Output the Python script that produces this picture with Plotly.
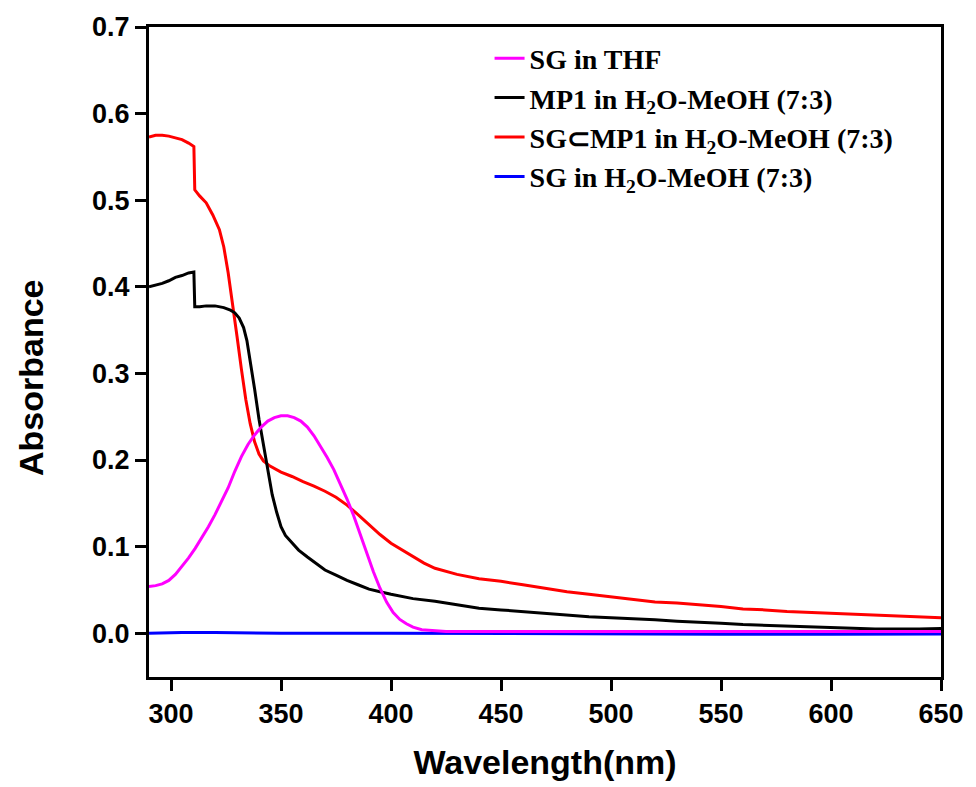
import plotly.graph_objects as go

# ---------------- data ----------------
wl_red = [290, 293, 296, 299, 302, 305, 308, 310.4, 310.8, 313, 316, 319, 322, 324, 326, 328, 330, 332, 334, 336,
          338, 340, 342, 345, 350, 355, 360, 365, 370, 375, 380, 385, 390, 395, 400, 405, 410, 415, 420, 430,
          440, 450, 460, 470, 480, 490, 500, 510, 520, 530, 540, 550, 560, 570, 580, 590, 600, 610, 620, 630,
          640, 650]
abs_red = [0.573, 0.575, 0.575, 0.574, 0.572, 0.570, 0.566, 0.562, 0.512, 0.505, 0.497, 0.483, 0.466, 0.446,
           0.416, 0.382, 0.343, 0.305, 0.270, 0.242, 0.221, 0.207, 0.199, 0.193, 0.186, 0.181, 0.175, 0.170,
           0.164, 0.157, 0.148, 0.137, 0.125, 0.114, 0.104, 0.096, 0.088, 0.081, 0.075, 0.068, 0.063, 0.060,
           0.056, 0.052, 0.048, 0.045, 0.042, 0.039, 0.036, 0.035, 0.033, 0.031, 0.028, 0.027, 0.025, 0.024,
           0.023, 0.022, 0.021, 0.020, 0.019, 0.018]

wl_black = [290, 293, 296, 299, 302, 305, 308, 310.4, 310.8, 313, 316, 320, 324, 327, 329, 331, 333, 334.5, 336,
            338, 340, 342, 344, 346, 348, 350, 352, 355, 358, 362, 366, 370, 375, 380, 385, 390, 395, 400, 410,
            420, 430, 440, 450, 460, 470, 480, 490, 500, 510, 520, 530, 540, 550, 560, 570, 580, 590, 600, 610,
            620, 630, 640, 650]
abs_black = [0.400, 0.402, 0.404, 0.407, 0.411, 0.413, 0.416, 0.417, 0.377, 0.377, 0.378, 0.378, 0.376, 0.373,
             0.370, 0.364, 0.353, 0.338, 0.315, 0.282, 0.247, 0.218, 0.190, 0.160, 0.140, 0.123, 0.113, 0.104,
             0.096, 0.088, 0.080, 0.073, 0.067, 0.061, 0.056, 0.051, 0.048, 0.045, 0.040, 0.037, 0.033, 0.029,
             0.027, 0.025, 0.023, 0.021, 0.019, 0.018, 0.017, 0.0155, 0.014, 0.013, 0.0115, 0.010, 0.009, 0.008,
             0.0072, 0.0065, 0.0058, 0.0050, 0.0046, 0.0050, 0.0055]

wl_mag = [290, 293, 296, 299, 302, 305, 308, 311, 314, 317, 320, 323, 326, 329, 332, 335, 338, 341, 344, 347,
          350, 353, 356, 359, 362, 365, 368, 371, 374, 377, 380, 383, 386, 389, 392, 395, 398, 401, 404, 407,
          410, 414, 418, 425, 450, 500, 550, 600, 650]
abs_mag = [0.054, 0.055, 0.057, 0.061, 0.068, 0.077, 0.087, 0.098, 0.110, 0.123, 0.137, 0.152, 0.168, 0.187,
           0.204, 0.218, 0.229, 0.238, 0.245, 0.249, 0.251, 0.251, 0.249, 0.245, 0.238, 0.228, 0.216, 0.203,
           0.189, 0.173, 0.155, 0.136, 0.114, 0.092, 0.071, 0.052, 0.036, 0.024, 0.016, 0.011, 0.007, 0.004,
           0.003, 0.002, 0.002, 0.002, 0.002, 0.002, 0.002]

wl_blue = [290, 300, 305, 320, 350, 400, 450, 500, 550, 600, 650]
abs_blue = [0.000, 0.001, 0.001, 0.0008, 0.000, 0.000, -0.0005, -0.0008, -0.001, -0.001, -0.0008]

name_mag = "SG in THF"
name_black = "MP1 in H<sub>2</sub>O-MeOH (7:3)"
name_red = "SG\u2282MP1 in H<sub>2</sub>O-MeOH (7:3)"
name_blue = "SG in H<sub>2</sub>O-MeOH (7:3)"

x_ticks = [300, 350, 400, 450, 500, 550, 600, 650]
y_ticks = [0.0, 0.1, 0.2, 0.3, 0.4, 0.5, 0.6, 0.7]

x_title = "Wavelength(nm)"
y_title = "Absorbance"

# ---------------- figure ----------------
fig = go.Figure()
fig.add_trace(go.Scatter(x=wl_blue, y=abs_blue, mode="lines", name=name_blue,
                         line=dict(color="#0000FF", width=3), legendrank=4))
fig.add_trace(go.Scatter(x=wl_red, y=abs_red, mode="lines", name=name_red,
                         line=dict(color="#FF0000", width=3), legendrank=3))
fig.add_trace(go.Scatter(x=wl_black, y=abs_black, mode="lines", name=name_black,
                         line=dict(color="#000000", width=3), legendrank=2))
fig.add_trace(go.Scatter(x=wl_mag, y=abs_mag, mode="lines", name=name_mag,
                         line=dict(color="#FF00FF", width=3), legendrank=1))

axis_common = dict(showline=True, linecolor="black", linewidth=3, mirror=True,
                   showgrid=False, zeroline=False, ticks="outside", tickwidth=3,
                   tickcolor="black", ticklen=11)

fig.update_layout(
    width=976, height=787,
    margin=dict(l=149, r=29, t=27, b=110),
    paper_bgcolor="white", plot_bgcolor="white",
    showlegend=True,
    legend=dict(x=0.43, y=0.99, xanchor="left", yanchor="top",
                bgcolor="rgba(0,0,0,0)", borderwidth=0,
                font=dict(family="Liberation Serif", size=28, color="black", weight="bold"),
                tracegroupgap=0),
    xaxis=dict(range=[290, 650], tickvals=x_ticks, ticktext=[str(v) for v in x_ticks],
               tickfont=dict(family="Liberation Sans", size=27, color="black", weight="bold"),
               title=dict(text=x_title, standoff=22,
                          font=dict(family="Liberation Sans", size=34, color="black", weight="bold")),
               **axis_common),
    yaxis=dict(range=[-0.0505, 0.7], tickvals=y_ticks, ticktext=[f"{v:.1f}" for v in y_ticks],
               tickfont=dict(family="Liberation Sans", size=27, color="black", weight="bold"),
               **axis_common),
    annotations=[dict(text=y_title, textangle=-90, xref="paper", yref="paper",
                      x=-0.149, y=0.4615, xanchor="center", yanchor="middle", showarrow=False,
                      font=dict(family="Liberation Sans", size=34, color="black", weight="bold"))],
)

fig.write_html("out.html")
